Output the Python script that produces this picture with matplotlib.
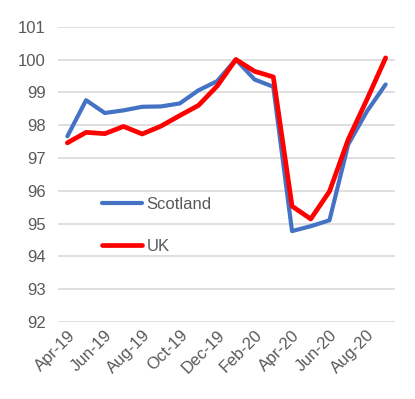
import matplotlib
matplotlib.use("Agg")
import matplotlib.pyplot as plt

months = ["Apr-19", "May-19", "Jun-19", "Jul-19", "Aug-19", "Sep-19", "Oct-19", "Nov-19", "Dec-19",
          "Jan-20", "Feb-20", "Mar-20", "Apr-20", "May-20", "Jun-20", "Jul-20", "Aug-20", "Sep-20"]
scotland = [97.66, 98.76, 98.37, 98.45, 98.56, 98.57, 98.66, 99.06, 99.34,
            100.0, 99.39, 99.17, 94.77, 94.92, 95.10, 97.41, 98.42, 99.24]
uk = [97.46, 97.78, 97.74, 97.96, 97.73, 97.97, 98.29, 98.60, 99.19,
      100.0, 99.64, 99.47, 95.53, 95.14, 95.98, 97.56, 98.78, 100.05]
yticks = [92, 93, 94, 95, 96, 97, 98, 99, 100, 101]

plt.rcParams['font.family'] = ['Liberation Sans', 'DejaVu Sans']

fig = plt.figure(figsize=(4.15, 3.99), dpi=100)
ax = fig.add_axes([58/415, 1-322/399, (395-58)/415, (322-26.7)/399])

x = list(range(len(months)))
ax.plot(x, scotland, color="#4472C4", lw=3.0, label="Scotland", solid_capstyle="round", solid_joinstyle="round")
ax.plot(x, uk, color="#FF0000", lw=3.4, label="UK", solid_capstyle="round", solid_joinstyle="round")

ax.set_xlim(-0.5, len(months) - 0.5)
ax.set_ylim(92, 101)
ax.set_yticks(yticks)
ax.set_yticklabels([str(v) for v in yticks])
ax.set_xticks(x[::2])
ax.set_xticklabels(months[::2], rotation=45, ha="right", rotation_mode="anchor")
ax.grid(axis="y", color="#D9D9D9", lw=1.2)
ax.set_axisbelow(True)
for s in ax.spines.values():
    s.set_visible(False)
ax.tick_params(axis="both", length=0, colors="#595959", labelsize=12)
ax.tick_params(axis="y", pad=9)
ax.tick_params(axis="x", pad=4)

leg = ax.legend(loc="upper left", bbox_to_anchor=(0.085, 0.475), frameon=False, fontsize=12,
                handlelength=2.4, handletextpad=0.3, labelspacing=1.65, labelcolor="#595959")

fig.savefig("out.png", dpi=100)
